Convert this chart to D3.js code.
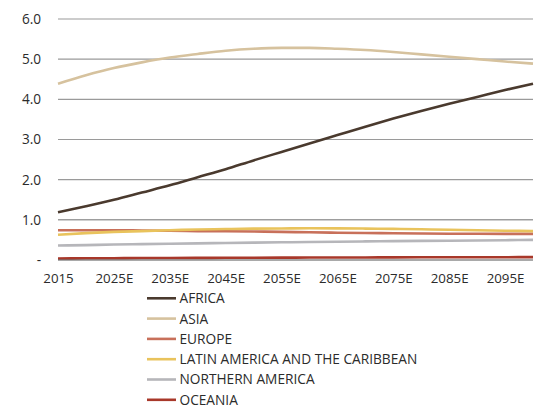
<!DOCTYPE html>
<html>
<head>
<meta charset="utf-8">
<script src="https://cdn.jsdelivr.net/npm/d3@7"></script>
<style>
  body { margin: 0; background: #fff; }
  svg text { font-family: "Open Sans", "Noto Sans", sans-serif; fill: #2b2b2b; }
</style>
</head>
<body>
<svg id="chart" width="538" height="408"></svg>
<script>
// Population by region, billions (5-year steps)
const years = [2015, 2020, 2025, 2030, 2035, 2040, 2045, 2050, 2055, 2060, 2065, 2070, 2075, 2080, 2085, 2090, 2095, 2100];
const africa   = [1.19, 1.34, 1.50, 1.68, 1.86, 2.06, 2.26, 2.48, 2.69, 2.90, 3.11, 3.32, 3.52, 3.71, 3.89, 4.06, 4.23, 4.39];
const asia     = [4.39, 4.60, 4.78, 4.92, 5.04, 5.13, 5.21, 5.26, 5.28, 5.28, 5.26, 5.23, 5.18, 5.12, 5.06, 5.00, 4.94, 4.89];
const europe   = [0.74, 0.74, 0.74, 0.735, 0.73, 0.72, 0.715, 0.71, 0.70, 0.69, 0.68, 0.672, 0.665, 0.66, 0.655, 0.652, 0.65, 0.65];
const latam    = [0.63, 0.67, 0.70, 0.72, 0.74, 0.76, 0.77, 0.78, 0.785, 0.79, 0.788, 0.782, 0.775, 0.765, 0.752, 0.74, 0.73, 0.72];
const northAm  = [0.36, 0.37, 0.385, 0.395, 0.405, 0.415, 0.425, 0.433, 0.441, 0.449, 0.456, 0.463, 0.469, 0.475, 0.481, 0.487, 0.493, 0.50];
const oceania  = [0.039, 0.042, 0.045, 0.048, 0.050, 0.053, 0.055, 0.057, 0.059, 0.061, 0.063, 0.064, 0.066, 0.067, 0.068, 0.069, 0.070, 0.071];

const xTicks = [2015, 2025, 2035, 2045, 2055, 2065, 2075, 2085, 2095];
const xTickLabels = ["2015", "2025E", "2035E", "2045E", "2055E", "2065E", "2075E", "2085E", "2095E"];
const yTicks = [0, 1, 2, 3, 4, 5, 6];
const yTickLabels = ["-", "1.0", "2.0", "3.0", "4.0", "5.0", "6.0"];

const series = [
  { name: "AFRICA", values: africa, color: "#4a3a2e" },
  { name: "ASIA", values: asia, color: "#d6c29e" },
  { name: "EUROPE", values: europe, color: "#c8705a" },
  { name: "LATIN AMERICA AND THE CARIBBEAN", values: latam, color: "#e9c35c" },
  { name: "NORTHERN AMERICA", values: northAm, color: "#b6b6ba" },
  { name: "OCEANIA", values: oceania, color: "#a8382a" }
];

const svg = d3.select("#chart");
const plotLeft = 58, plotRight = 533, plotTop = 19, plotBottom = 260;

const x = d3.scaleLinear().domain([2015, 2100]).range([plotLeft, plotRight]);
const y = d3.scaleLinear().domain([0, 6]).range([plotBottom, plotTop]);

// horizontal gridlines
svg.append("g")
  .selectAll("line")
  .data(yTicks.filter(d => d > 0))
  .join("line")
  .attr("x1", plotLeft).attr("x2", plotRight)
  .attr("y1", d => y(d)).attr("y2", d => y(d))
  .attr("stroke", d => d === 1 ? "#6e6e6e" : "#9a9a9a")
  .attr("stroke-width", d => d === 1 ? 1 : 1.2);

// y labels
const yAxis = d3.axisLeft(y).tickValues(yTicks).tickSize(0).tickPadding(0)
  .tickFormat((d, i) => yTickLabels[i]);
const gy = svg.append("g").attr("transform", `translate(${plotLeft - 17},0)`).call(yAxis);
gy.select(".domain").remove();
gy.selectAll("text").attr("font-size", 13.6).attr("fill", "#2b2b2b")
  .style("font-family", '"Open Sans", "Noto Sans", sans-serif');

// lines
const line = d3.line()
  .x((d, i) => x(years[i]))
  .y(d => y(d))
  .curve(d3.curveMonotoneX);

svg.append("g")
  .selectAll("path")
  .data(series)
  .join("path")
  .attr("fill", "none")
  .attr("stroke", d => d.color)
  .attr("stroke-width", 2.6)
  .attr("d", d => line(d.values));

// zero baseline
svg.append("line")
  .attr("x1", plotLeft).attr("x2", plotRight)
  .attr("y1", y(0)).attr("y2", y(0))
  .attr("stroke", "#555").attr("stroke-width", 1.2);

// x labels
const xAxis = d3.axisBottom(x).tickValues(xTicks).tickSize(0).tickPadding(0)
  .tickFormat((d, i) => xTickLabels[i]);
const gx = svg.append("g").attr("transform", `translate(0,${plotBottom + 14})`).call(xAxis);
gx.select(".domain").remove();
gx.selectAll("text").attr("font-size", 13.3).attr("fill", "#2b2b2b")
  .style("font-family", '"Open Sans", "Noto Sans", sans-serif');

// legend
const legend = svg.append("g").attr("transform", "translate(147,298.3)");
const item = legend.selectAll("g")
  .data(series)
  .join("g")
  .attr("transform", (d, i) => `translate(0,${i * 20.3})`);
item.append("line")
  .attr("x1", 0).attr("x2", 29)
  .attr("stroke", d => d.color).attr("stroke-width", 2.6);
item.append("text")
  .attr("x", 32.5).attr("y", 0).attr("dy", "0.36em")
  .attr("font-size", 13.7)
  .text(d => d.name);
</script>
</body>
</html>
